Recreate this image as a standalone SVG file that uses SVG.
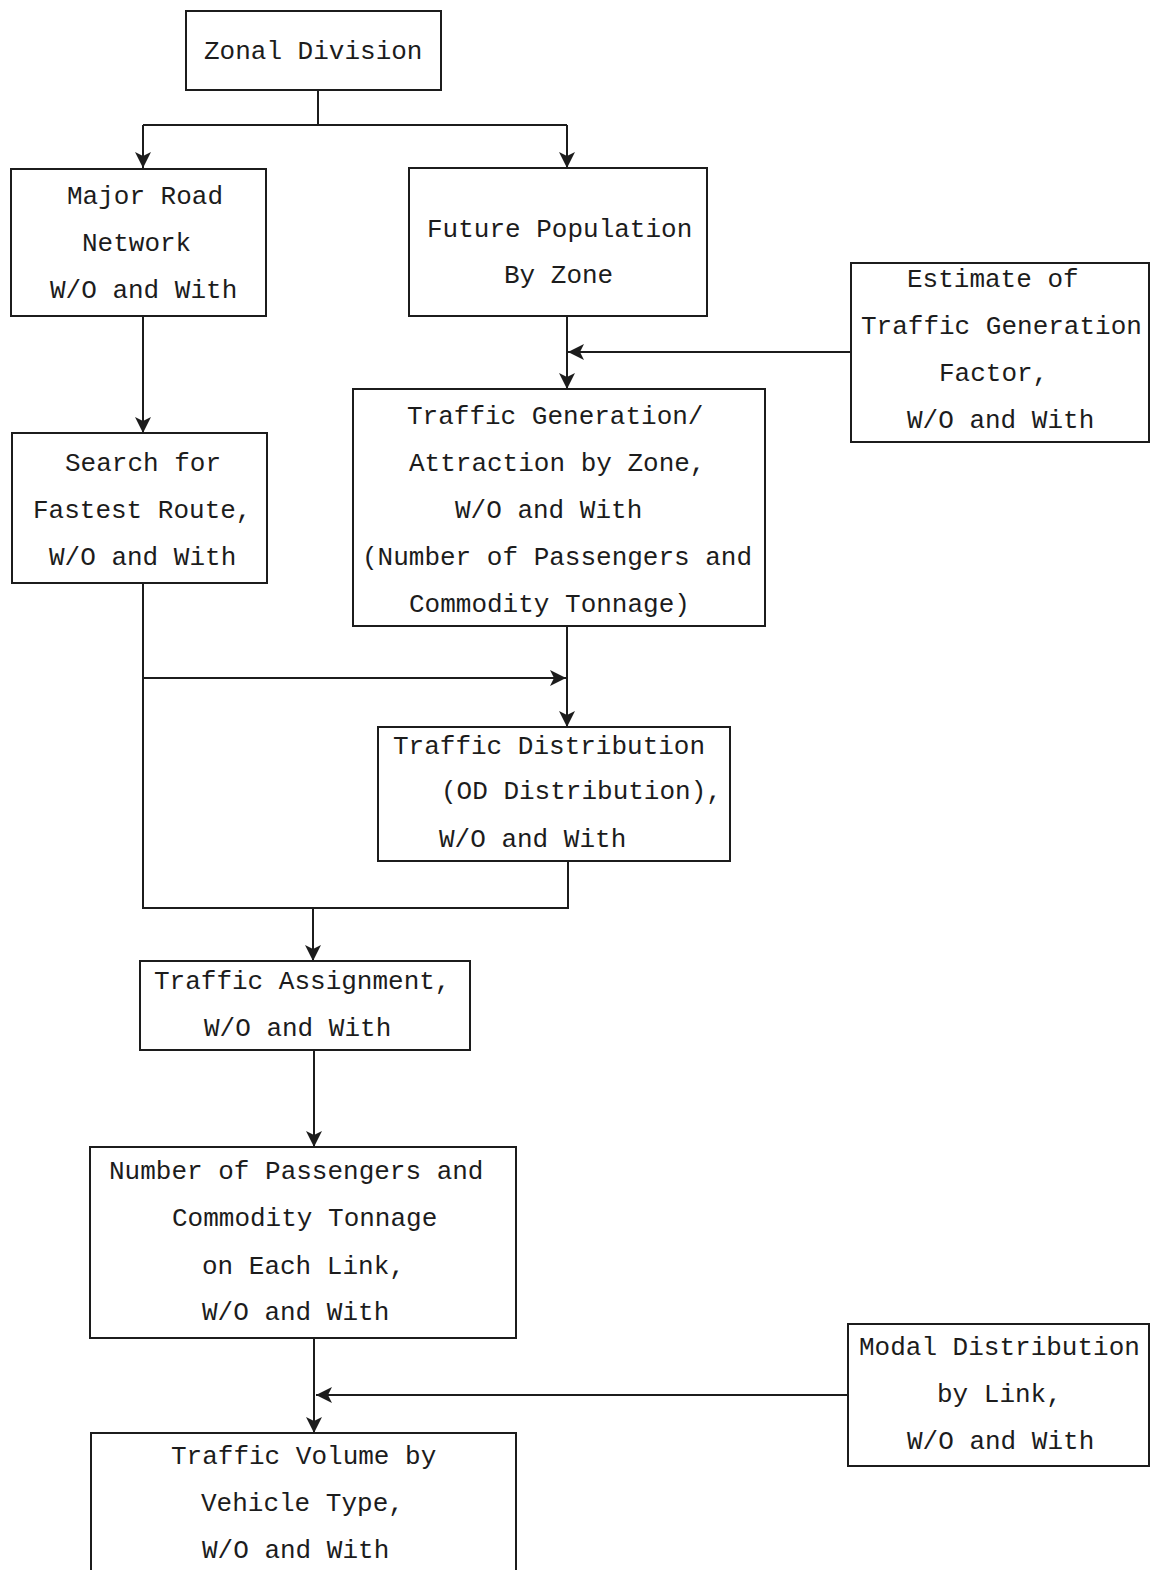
<svg xmlns="http://www.w3.org/2000/svg" width="1151" height="1570" viewBox="0 0 1151 1570">
  <defs>
    <style>
      .box { fill: #ffffff; stroke: #1c1c1c; stroke-width: 2; }
      .lbl { font-family: "Liberation Mono", "DejaVu Sans Mono", monospace; font-size: 26px; fill: #1c1c1c; }
      .wire { fill: none; stroke: #1c1c1c; stroke-width: 2; }
    </style>
    <marker id="arrow" viewBox="0 0 16 16" refX="16" refY="8" markerWidth="16" markerHeight="16" markerUnits="userSpaceOnUse" orient="auto">
      <path d="M0,0 L16,8 L0,16 L4,8 Z" fill="#1c1c1c"/>
    </marker>
  </defs>
  <rect width="1151" height="1570" fill="#ffffff"/>

  <!-- connectors -->
  <g id="connectors">
    <path class="wire" d="M318,90 V125 M143,125 H567"/>
    <path class="wire" d="M143,125 V168" marker-end="url(#arrow)"/>
    <path class="wire" d="M567,125 V168" marker-end="url(#arrow)"/>
    <path class="wire" d="M567,316 V389" marker-end="url(#arrow)"/>
    <path class="wire" d="M851,352 H568" marker-end="url(#arrow)"/>
    <path class="wire" d="M143,316 V433" marker-end="url(#arrow)"/>
    <path class="wire" d="M143,583 V908 H568 V861"/>
    <path class="wire" d="M143,678 H566" marker-end="url(#arrow)"/>
    <path class="wire" d="M567,626 V727" marker-end="url(#arrow)"/>
    <path class="wire" d="M313,908 V961" marker-end="url(#arrow)"/>
    <path class="wire" d="M314,1050 V1147" marker-end="url(#arrow)"/>
    <path class="wire" d="M314,1338 V1433" marker-end="url(#arrow)"/>
    <path class="wire" d="M848,1395 H316" marker-end="url(#arrow)"/>
  </g>

  <g id="zonal-division">
    <rect class="box" x="186" y="11" width="255" height="79"/>
    <text class="lbl" x="204" y="59">Zonal Division</text>
  </g>

  <g id="major-road-network">
    <rect class="box" x="11" y="169" width="255" height="147"/>
    <text class="lbl" x="67" y="204">Major Road</text>
    <text class="lbl" x="82" y="251">Network</text>
    <text class="lbl" x="50" y="298">W/O and With</text>
  </g>

  <g id="future-population">
    <rect class="box" x="409" y="168" width="298" height="148"/>
    <text class="lbl" x="427" y="237">Future Population</text>
    <text class="lbl" x="504" y="283">By Zone</text>
  </g>

  <g id="generation-factor">
    <rect class="box" x="851" y="263" width="298" height="179"/>
    <text class="lbl" x="907" y="287">Estimate of</text>
    <text class="lbl" x="861" y="334">Traffic Generation</text>
    <text class="lbl" x="939" y="381">Factor,</text>
    <text class="lbl" x="907" y="428">W/O and With</text>
  </g>

  <g id="generation-attraction">
    <rect class="box" x="353" y="389" width="412" height="237"/>
    <text class="lbl" x="407" y="424">Traffic Generation/</text>
    <text class="lbl" x="409" y="471">Attraction by Zone,</text>
    <text class="lbl" x="455" y="518">W/O and With</text>
    <text class="lbl" x="362" y="565">(Number of Passengers and</text>
    <text class="lbl" x="409" y="612">Commodity Tonnage)</text>
  </g>

  <g id="fastest-route">
    <rect class="box" x="12" y="433" width="255" height="150"/>
    <text class="lbl" x="65" y="471">Search for</text>
    <text class="lbl" x="33" y="518">Fastest Route,</text>
    <text class="lbl" x="49" y="565">W/O and With</text>
  </g>

  <g id="traffic-distribution">
    <rect class="box" x="378" y="727" width="352" height="134"/>
    <text class="lbl" x="393" y="754">Traffic Distribution</text>
    <text class="lbl" x="441" y="799">(OD Distribution),</text>
    <text class="lbl" x="439" y="847">W/O and With</text>
  </g>

  <g id="traffic-assignment">
    <rect class="box" x="140" y="961" width="330" height="89"/>
    <text class="lbl" x="154" y="989">Traffic Assignment,</text>
    <text class="lbl" x="204" y="1036">W/O and With</text>
  </g>

  <g id="link-volumes">
    <rect class="box" x="90" y="1147" width="426" height="191"/>
    <text class="lbl" x="109" y="1179">Number of Passengers and</text>
    <text class="lbl" x="172" y="1226">Commodity Tonnage</text>
    <text class="lbl" x="202" y="1274">on Each Link,</text>
    <text class="lbl" x="202" y="1320">W/O and With</text>
  </g>

  <g id="modal-distribution">
    <rect class="box" x="848" y="1324" width="301" height="142"/>
    <text class="lbl" x="859" y="1355">Modal Distribution</text>
    <text class="lbl" x="937" y="1402">by Link,</text>
    <text class="lbl" x="907" y="1449">W/O and With</text>
  </g>

  <g id="vehicle-volume">
    <rect class="box" x="91" y="1433" width="425" height="150"/>
    <text class="lbl" x="171" y="1464">Traffic Volume by</text>
    <text class="lbl" x="201" y="1511">Vehicle Type,</text>
    <text class="lbl" x="202" y="1558">W/O and With</text>
  </g>
</svg>
